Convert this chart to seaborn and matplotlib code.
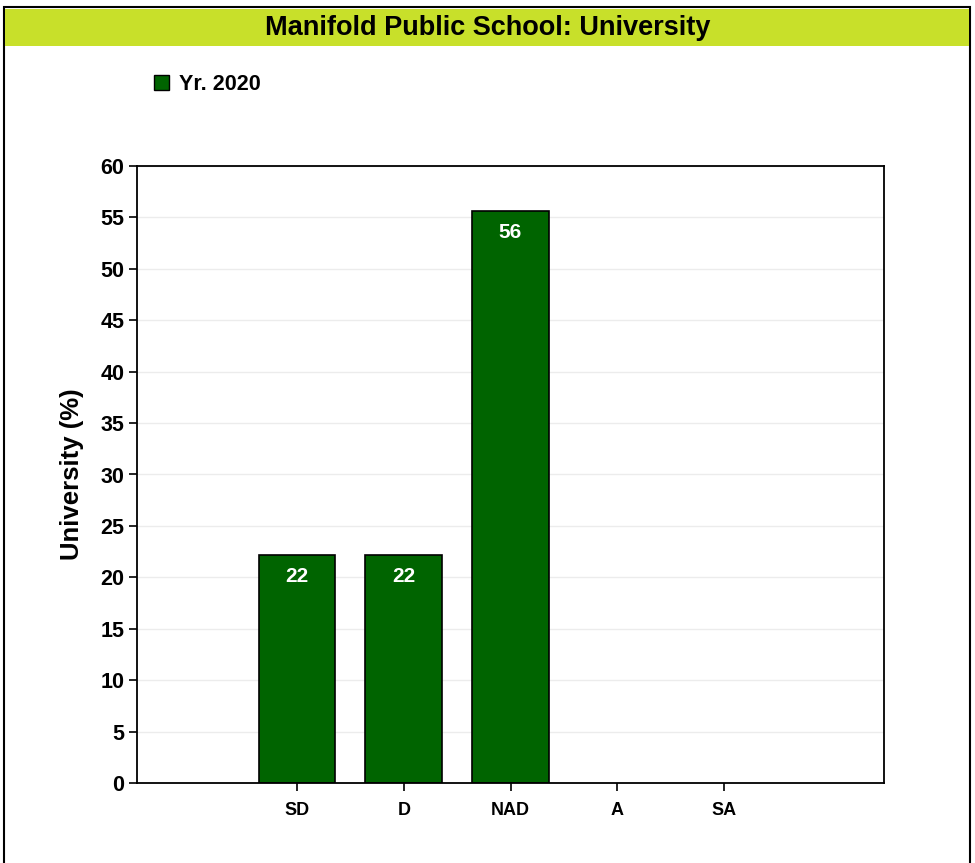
import numpy as np
import pandas as pd
import matplotlib
matplotlib.use("Agg")
import matplotlib.pyplot as plt
from matplotlib.patches import Rectangle, Patch
import seaborn as sns

categories = ["SD", "D", "NAD", "A", "SA"]
values = [22.2, 22.2, 55.6, np.nan, np.nan]
series_name = "Yr. 2020"
y_ticks = list(range(0, 61, 5))
title = "Manifold Public School: University"
y_label = "University (%)"

bar_color = "#006400"
band_color = "#c8e02a"

sns.set_theme(style="white")
plt.rcParams["font.family"] = ["Liberation Sans Narrow", "Liberation Sans", "DejaVu Sans"]
plt.rcParams["font.weight"] = "bold"
plt.rcParams["text.color"] = "black"
plt.rcParams["axes.labelcolor"] = "black"
plt.rcParams["xtick.color"] = "black"
plt.rcParams["ytick.color"] = "black"

df = pd.DataFrame({"category": categories, "value": values})

fig = plt.figure(figsize=(9.75, 8.63), dpi=100)
W, H = 975, 863

# outer frame and title band
fig.patches.append(Rectangle((4 / W, -0.01), 966 / W, 1 - 7 / H + 0.01, transform=fig.transFigure,
                             fill=False, edgecolor="black", linewidth=1.5))
fig.patches.append(Rectangle((5 / W, 1 - 46 / H), 964 / W, 37 / H, transform=fig.transFigure,
                             facecolor=band_color, edgecolor="none"))
fig.text(0.5, 1 - 28 / H, title, ha="center", va="center", fontsize=19.5, fontweight="bold", color="black")

ax = fig.add_axes([137 / W, 1 - 783 / H, (884 - 137) / W, (783 - 166) / H])
sns.barplot(data=df, x="category", y="value", order=categories, color=bar_color,
            width=0.72, edgecolor="black", linewidth=1.2, saturation=1, ax=ax, errorbar=None)

ax.set_xlim(-1.5, 5.5)
ax.set_ylim(0, 60)
ax.set_yticks(y_ticks)
ax.set_yticklabels([str(t) for t in y_ticks])
ax.yaxis.grid(True, color="#ececec", linewidth=1)
ax.set_axisbelow(True)
for s in ax.spines.values():
    s.set_visible(True)
    s.set_color("black")
    s.set_linewidth(1.3)
ax.tick_params(axis="both", which="major", direction="out", length=6, width=1.2, color="black",
               bottom=True, left=True)
ax.tick_params(axis="y", labelsize=15.5, pad=3)
ax.tick_params(axis="x", labelsize=13, pad=8)
for lbl in ax.get_xticklabels() + ax.get_yticklabels():
    lbl.set_fontweight("bold")
ax.set_xlabel("")
ax.set_ylabel(y_label, fontsize=18.5, fontweight="bold", labelpad=12)

for patch, v in zip(ax.patches, [v for v in values if not np.isnan(v)]):
    x = patch.get_x() + patch.get_width() / 2
    ax.annotate(f"{v:.0f}", (x, patch.get_height()), xytext=(0, -8.5), textcoords="offset points",
                ha="center", va="top", color="white", fontsize=15, fontweight="bold")

handle = Patch(facecolor=bar_color, edgecolor="black", linewidth=1)
fig.legend([handle], [series_name], loc="center left", bbox_to_anchor=(135 / W, 1 - 85 / H),
           frameon=False, handlelength=0.7, handleheight=0.7, handletextpad=0.45,
           prop={"weight": "bold", "size": 15.5})

fig.savefig("out.png", dpi=100)
